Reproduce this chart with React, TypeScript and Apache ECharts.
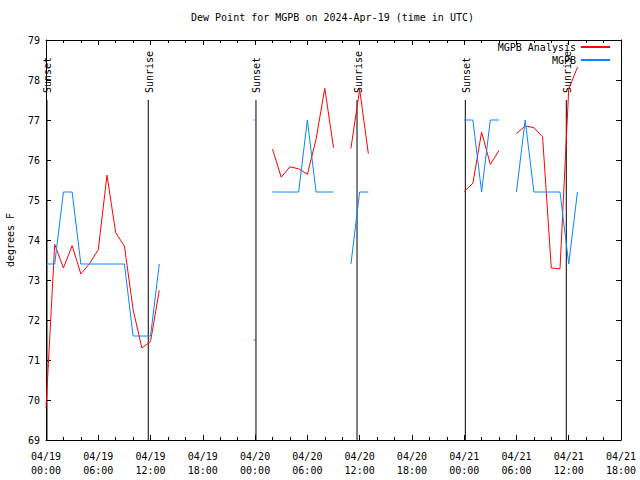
import React, { useEffect, useRef } from "react";
import * as echarts from "echarts";

// hours since 2024-04-19 00:00 UTC
const hours: number[] = Array.from({ length: 62 }, (_, i) => i);

// MGPB Analysis (red), null = no data
const analysis: (number | null)[] = [
  69.8, 73.89, 73.3, 73.86, 73.15, 73.41, 73.76, 75.62, 74.18, 73.85,
  72.26, 71.3, 71.46, 72.74, null, null, null, null, null, null,
  null, null, null, null, 71.5, null, 76.27, 75.57, 75.83, 75.78,
  75.64, 76.52, 77.79, 76.31, null, 76.29, 77.77, 76.16, null, null,
  null, null, null, null, null, null, null, null, 75.21, 75.42,
  76.7, 75.89, 76.24, null, 76.66, 76.85, 76.81, 76.58, 73.3, 73.28,
  77.77, 78.32,
];

// MGPB station (blue)
const station: (number | null)[] = [
  73.4, 73.4, 75.2, 75.2, 73.4, 73.4, 73.4, 73.4, 73.4, 73.4,
  71.6, 71.6, 71.6, 73.4, null, null, null, null, null, null,
  null, null, null, null, 77.0, null, 75.2, 75.2, 75.2, 75.2,
  77.0, 75.2, 75.2, 75.2, null, 73.4, 75.2, 75.2, null, null,
  null, null, null, null, null, null, null, null, 77.0, 77.0,
  75.2, 77.0, 77.0, null, 75.2, 77.0, 75.2, 75.2, 75.2, 75.2,
  73.4, 75.2,
];

const sunHours: number[] = [0.11, 11.74, 24.1, 35.7, 48.13, 59.72];
const sunLabels: string[] = ["Sunset", "Sunrise", "Sunset", "Sunrise", "Sunset", "Sunrise"];

const FONT = "'DejaVu Sans Mono', monospace";
const RED = "#ff0000";
const BLUE = "#0a84ff";

function isolated(vals: (number | null)[]): number[][] {
  const out: number[][] = [];
  vals.forEach((v, i) => {
    if (v != null && vals[i - 1] == null && vals[i + 1] == null) out.push([hours[i], v]);
  });
  return out;
}

const pad = (n: number) => (n < 10 ? "0" + n : "" + n);

export default function App() {
  const ref = useRef<HTMLDivElement>(null);
  useEffect(() => {
    if (!ref.current) return;
    const chart = echarts.init(ref.current, undefined, { renderer: "svg" });
    const xCommon = {
      type: "value" as const,
      min: 0,
      max: 66,
      interval: 6,
      axisLine: { show: true, onZero: false, lineStyle: { color: "#000", width: 1 } },
      axisTick: { show: true, inside: true, length: 5, lineStyle: { color: "#000" } },
      minorTick: { show: true, splitNumber: 3, length: 3, lineStyle: { color: "#000" } },
      splitLine: { show: false },
      minorSplitLine: { show: false },
    };
    const yCommon = {
      type: "value" as const,
      min: 69,
      max: 79,
      interval: 1,
      axisLine: { show: true, onZero: false, lineStyle: { color: "#000", width: 1 } },
      axisTick: { show: true, inside: true, length: 5, lineStyle: { color: "#000" } },
      splitLine: { show: false },
    };
    chart.setOption({
      animation: false,
      backgroundColor: "#fff",
      title: {
        text: "Dew Point for MGPB on 2024-Apr-19 (time in UTC)",
        left: 191,
        top: 12,
        padding: 0,
        textStyle: { fontSize: 10, fontWeight: "normal", fontFamily: FONT, color: "#000" },
      },
      legend: {
        orient: "vertical",
        right: 30,
        top: 42,
        padding: 0,
        align: "right",
        itemWidth: 29,
        itemHeight: 2,
        itemGap: 3,
        icon: "rect",
        data: ["MGPB Analysis", "MGPB"],
        textStyle: { fontSize: 10, fontFamily: FONT, color: "#000" },
      },
      grid: { left: 46, right: 19, top: 40, bottom: 40, containLabel: false, outerBoundsMode: "none" },
      xAxis: [
        {
          ...xCommon,
          position: "bottom",
          axisLabel: {
            show: true,
            margin: 9,
            fontSize: 10,
            lineHeight: 14,
            fontFamily: FONT,
            color: "#000",
            formatter: (v: number) => {
              const d = 19 + Math.floor(v / 24);
              const h = v % 24;
              return `04/${d}\n${pad(h)}:00`;
            },
          },
        },
        { ...xCommon, position: "top", axisLabel: { show: false } },
      ],
      yAxis: [
        {
          ...yCommon,
          position: "left",
          name: "degrees F",
          nameLocation: "middle",
          nameRotate: 90,
          nameGap: 31,
          nameTextStyle: { fontSize: 10, fontFamily: FONT, color: "#000" },
          axisLabel: { show: true, margin: 6, fontSize: 10, fontFamily: FONT, color: "#000" },
        },
        { ...yCommon, position: "right", axisLabel: { show: false } },
      ],
      series: [
        {
          type: "custom",
          name: "sun",
          xAxisIndex: 0,
          yAxisIndex: 0,
          silent: true,
          data: sunHours.map((h, i) => [h, 77.5, i]),
          renderItem: (params: any, api: any) => {
            const x = api.value(0);
            const idx = api.value(2);
            const top = api.coord([x, 77.5]);
            const bot = api.coord([x, 69]);
            return {
              type: "group",
              children: [
                {
                  type: "line",
                  shape: { x1: top[0], y1: top[1], x2: bot[0], y2: bot[1] },
                  style: { stroke: "#000", lineWidth: 1 },
                },
                {
                  type: "text",
                  x: top[0] + 1,
                  y: top[1] - 7,
                  rotation: Math.PI / 2,
                  style: {
                    text: sunLabels[idx],
                    fontSize: 10,
                    fontFamily: FONT,
                    fill: "#000",
                    align: "left",
                    verticalAlign: "middle",
                  },
                },
              ],
            };
          },
        },
        {
          type: "line",
          name: "MGPB Analysis",
          data: hours.map((h, i) => [h, analysis[i] == null ? "-" : analysis[i]]),
          showSymbol: false,
          lineStyle: { color: RED, width: 1 },
          itemStyle: { color: RED },
          connectNulls: false,
        },
        {
          type: "line",
          name: "MGPB",
          data: hours.map((h, i) => [h, station[i] == null ? "-" : station[i]]),
          showSymbol: false,
          lineStyle: { color: BLUE, width: 1 },
          itemStyle: { color: BLUE },
          connectNulls: false,
        },
        {
          type: "scatter",
          data: isolated(analysis),
          symbol: "rect",
          symbolSize: [3, 1],
          itemStyle: { color: RED },
          silent: true,
        },
        {
          type: "scatter",
          data: isolated(station),
          symbol: "rect",
          symbolSize: [3, 1],
          itemStyle: { color: BLUE },
          silent: true,
        },
      ],
    });
    return () => chart.dispose();
  }, []);
  return (
    <div
      ref={ref}
      style={{ position: "fixed", left: 0, top: 0, width: 640, height: 480, background: "#fff" }}
    />
  );
}
